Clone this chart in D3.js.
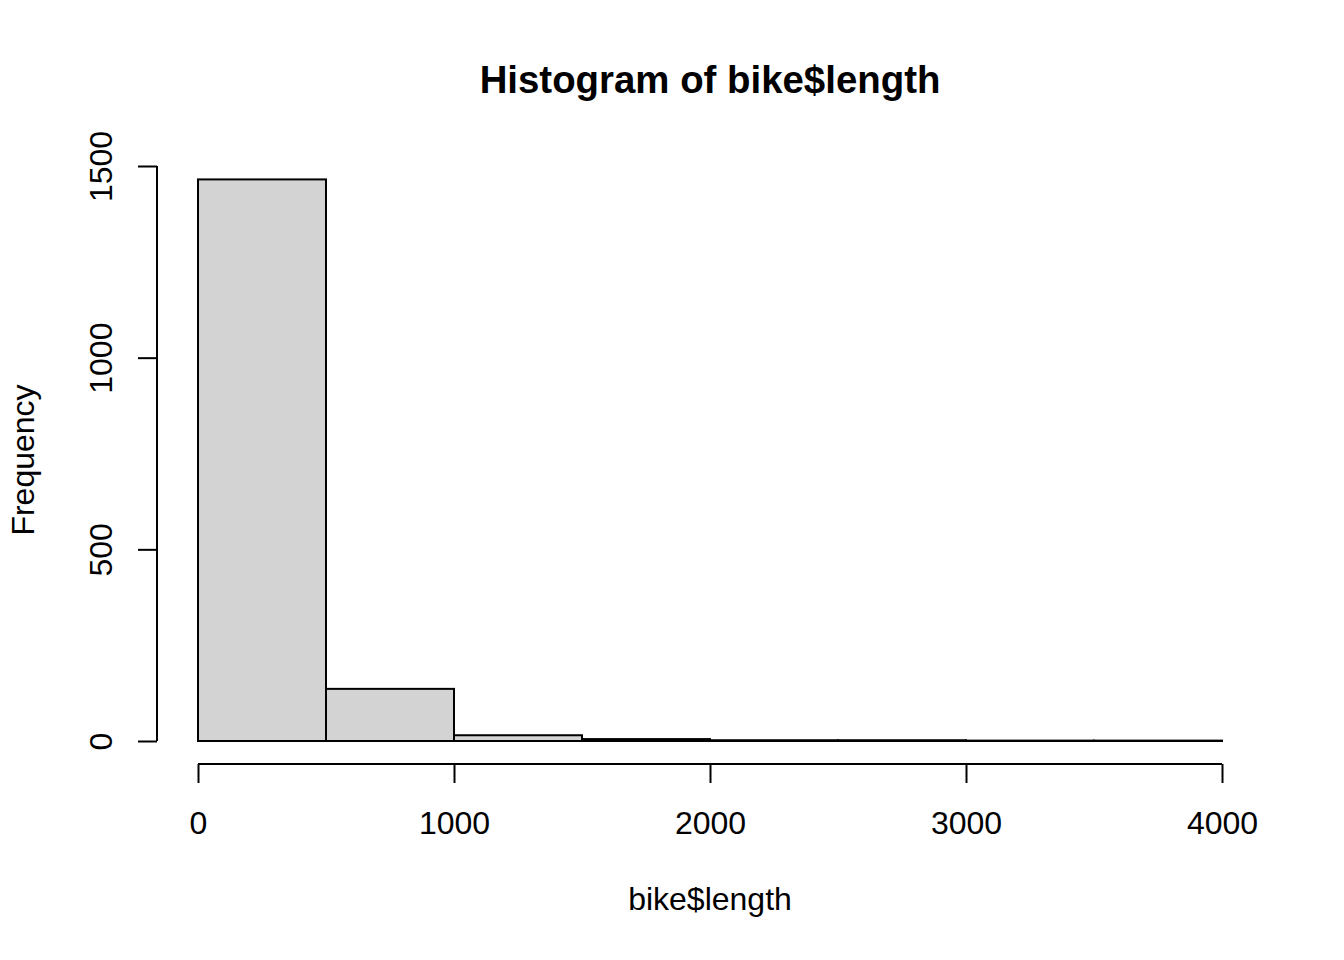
<!DOCTYPE html>
<html>
<head>
<meta charset="utf-8">
<script src="https://cdn.jsdelivr.net/npm/d3@7"></script>
<style>
  body { margin: 0; background: #fff; }
  text { font-family: "Liberation Sans", Arial, sans-serif; fill: #000; }
</style>
</head>
<body>
<div id="chart"></div>
<script>
// histogram bins of bike$length
let binStarts = [0, 500, 1000, 1500, 2000, 2500, 3000, 3500];
let binWidth = 500;
let counts = [1465, 136, 15, 5, 2, 2, 1, 1];
let xTicks = [0, 1000, 2000, 3000, 4000];
let yTicks = [0, 500, 1000, 1500];

let chart_width = 1344;
let chart_height = 960;

let svg = d3.select('#chart')
            .append('svg')
            .attr('width', chart_width)
            .attr('height', chart_height);

let x_scale = d3.scaleLinear()
            .domain([0, 4000])
            .range([198, 1222]);

let y_scale = d3.scaleLinear()
            .domain([0, 1500])
            .range([741, 166]);

// bars
svg.selectAll('rect.bar')
  .data(binStarts)
  .enter()
  .append('rect')
  .attr('class', 'bar')
  .attr('x', d => x_scale(d))
  .attr('y', (d, i) => y_scale(counts[i]))
  .attr('width', d => x_scale(d + binWidth) - x_scale(d))
  .attr('height', (d, i) => y_scale(0) - y_scale(counts[i]))
  .attr('fill', '#d3d3d3')
  .attr('stroke', '#000')
  .attr('stroke-width', 2);

// x axis
let x_axis = d3.axisBottom(x_scale)
            .tickValues(xTicks)
            .tickSize(19)
            .tickFormat(d3.format('d'));

let gx = svg.append('g')
  .attr('class', 'x-axis')
  .attr('transform', 'translate(0,764)')
  .call(x_axis);
gx.select('.domain').attr('d', 'M' + x_scale(0) + ',0H' + x_scale(4000)).attr('stroke-width', 2);
gx.selectAll('.tick line').attr('stroke-width', 2);
gx.selectAll('.tick text').attr('font-size', 32).attr('font-family', '"Liberation Sans", Arial, sans-serif').attr('fill', '#000').attr('dy', null).attr('y', 70);

// y axis
let y_axis = d3.axisLeft(y_scale)
            .tickValues(yTicks)
            .tickSize(19)
            .tickFormat(d3.format('d'));

let gy = svg.append('g')
  .attr('class', 'y-axis')
  .attr('transform', 'translate(157,0)')
  .call(y_axis);
gy.select('.domain').attr('d', 'M0,' + y_scale(0) + 'V' + y_scale(1500)).attr('stroke-width', 2);
gy.selectAll('.tick line').attr('stroke-width', 2);
gy.selectAll('.tick text')
  .attr('font-size', 32)
  .attr('font-family', '"Liberation Sans", Arial, sans-serif')
  .attr('fill', '#000')
  .attr('x', null).attr('dy', null)
  .attr('text-anchor', 'middle')
  .attr('transform', 'translate(-45,0) rotate(-90)');

// titles
svg.append('text')
  .attr('x', 710).attr('y', 93)
  .attr('text-anchor', 'middle')
  .attr('font-size', 38.4)
  .attr('font-weight', 'bold')
  .text('Histogram of bike$length');

svg.append('text')
  .attr('x', 710).attr('y', 910)
  .attr('text-anchor', 'middle')
  .attr('font-size', 32)
  .text('bike$length');

svg.append('text')
  .attr('transform', 'translate(34,460) rotate(-90)')
  .attr('text-anchor', 'middle')
  .attr('font-size', 32)
  .text('Frequency');
</script>
</body>
</html>
